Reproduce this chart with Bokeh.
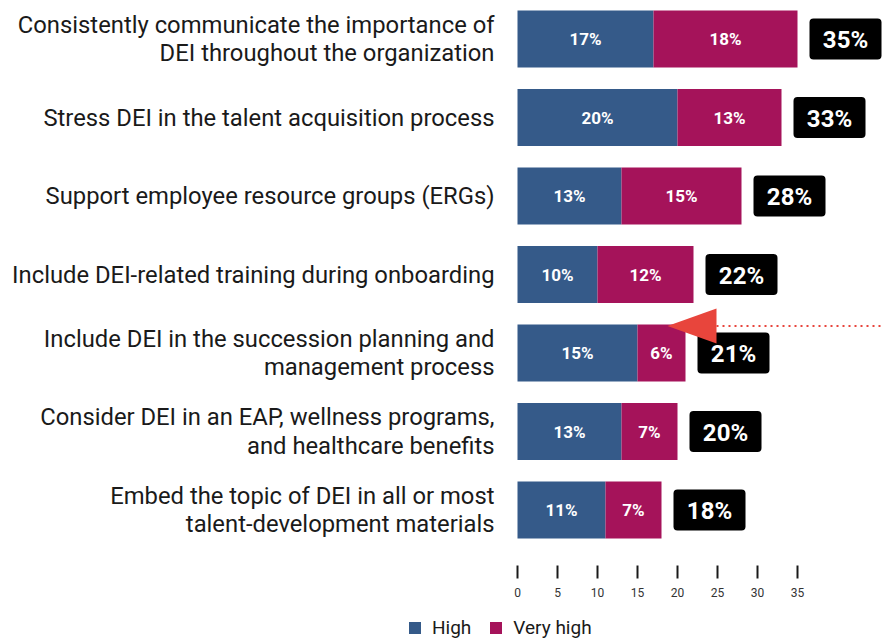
import numpy as np
from bokeh.plotting import figure
from bokeh.models import Range1d, Legend, LegendItem
from bokeh.core.properties import value
from bokeh.embed import file_html
from bokeh.resources import INLINE

# ---------------- data ----------------
categories = [
    "Consistently communicate the importance of\nDEI throughout the organization",
    "Stress DEI in the talent acquisition process",
    "Support employee resource groups (ERGs)",
    "Include DEI-related training during onboarding",
    "Include DEI in the succession planning and\nmanagement process",
    "Consider DEI in an EAP, wellness programs,\nand healthcare benefits",
    "Embed the topic of DEI in all or most\ntalent-development materials",
]
high = [17, 20, 13, 10, 15, 13, 11]
very_high = [18, 13, 15, 12, 6, 7, 7]
totals = [35, 33, 28, 22, 21, 20, 18]
ticks = [0, 5, 10, 15, 20, 25, 30, 35]
series_names = ["High", "Very high"]
highlight_row = 4  # row the arrow points at

# ---------------- styles ----------------
BLUE = "#355A89"
MAGENTA = "#A5135A"
ARROW = "#E8453C"
FONT = "Roboto"

W, H = 883, 641
PX_PER_UNIT = 8.0          # horizontal pixels per percent
X0_PX = 517                # pixel of x = 0
ROW_PX = 78.5              # vertical pixels per row
ROW0_PX = 38.5             # pixel of first row centre


def ypx(py):
    """pixel (from top) -> row units"""
    return (py - ROW0_PX) / ROW_PX


def xpx(px):
    return (px - X0_PX) / PX_PER_UNIT


rows = np.arange(len(categories))
high_a = np.array(high, dtype=float)
vh_a = np.array(very_high, dtype=float)
tot_a = np.array(totals, dtype=float)

p = figure(
    width=W, height=H, output_backend="svg", toolbar_location=None,
    x_range=Range1d(xpx(0), xpx(W)), y_range=Range1d(ypx(H), ypx(0)),
    x_axis_location=None, y_axis_location=None, min_border=0,
)
p.outline_line_color = None
p.grid.visible = False
p.background_fill_color = "white"

bar_h = 57 / ROW_PX
r_high = p.hbar(y=rows, left=0, right=high_a, height=bar_h, fill_color=BLUE, line_color=None)
r_vh = p.hbar(y=rows, left=high_a, right=high_a + vh_a, height=bar_h, fill_color=MAGENTA, line_color=None)

# segment labels
seg_style = dict(text_color="white", text_font=value(FONT), text_font_style="bold",
                 text_font_size="17px", text_align="center", text_baseline="middle")
p.text(x=high_a / 2, y=rows, text=[f"{v}%" for v in high], **seg_style)
p.text(x=high_a + vh_a / 2, y=rows, text=[f"{v}%" for v in very_high], **seg_style)

# total boxes
box_half = 20.5 / ROW_PX
p.quad(left=tot_a + 12 / PX_PER_UNIT, right=tot_a + 84 / PX_PER_UNIT,
       top=rows - box_half, bottom=rows + box_half,
       fill_color="black", line_color=None, border_radius=4)
p.text(x=tot_a + 48 / PX_PER_UNIT, y=rows + 1 / ROW_PX, text=[f"{v}%" for v in totals],
       text_color="white", text_font=value(FONT), text_font_style="bold",
       text_font_size="24px", text_align="center", text_baseline="middle")

# category labels
p.text(x=xpx(494), y=rows, text=categories, text_color="#1a1a1a",
       text_font=value(FONT), text_font_size="23.8px", text_align="right",
       text_baseline="middle", text_line_height=1.02)

# x ticks
tk = np.array(ticks, dtype=float)
p.segment(x0=tk, x1=tk, y0=np.full(len(tk), ypx(565)), y1=np.full(len(tk), ypx(578)),
          line_color="#1a1a1a", line_width=2)
p.text(x=tk, y=np.full(len(tk), ypx(592)), text=[str(t) for t in ticks],
       text_color="#333333", text_font=value(FONT), text_font_size="12px",
       text_align="center", text_baseline="middle")

# arrow annotation
cy = highlight_row + ypx(325.5) - ypx(352.5)
half = 17.5 / ROW_PX
tip_x = xpx(667)
base_x = xpx(716)
p.patch(x=[tip_x, base_x, base_x], y=[cy, cy - half, cy + half], fill_color=ARROW, line_color=None)
p.segment(x0=[base_x], x1=[xpx(W)], y0=[cy], y1=[cy], line_color=ARROW, line_width=2,
          line_dash="2 4")

# legend
legend = Legend(items=[LegendItem(label=series_names[0], renderers=[r_high]),
                       LegendItem(label=series_names[1], renderers=[r_vh])],
                location=(407, 2), orientation="horizontal",
                padding=0, margin=0, spacing=17, label_standoff=10,
                glyph_width=15, glyph_height=15, label_height=18,
                label_text_font=FONT, label_text_font_size="19px", label_text_color="#1a1a1a",
                border_line_color=None, background_fill_alpha=0)
p.add_layout(legend, "center")

open("out.html", "w").write(file_html(p, INLINE))
